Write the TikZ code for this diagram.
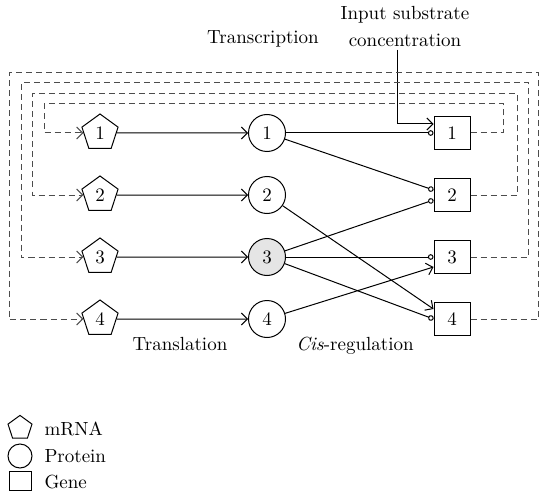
\documentclass[tikz,border=0pt]{standalone}
\usetikzlibrary{arrows,arrows.meta,shapes.geometric}

\tikzset{
  mrna/.style={draw, regular polygon, regular polygon sides=5, minimum size=19pt, inner sep=0pt},
  protein/.style={draw, circle, minimum size=18.5pt, inner sep=0pt},
  gene/.style={draw, rectangle, minimum width=18pt, minimum height=16.5pt, inner sep=0pt},
  fb/.style={draw=black!70, dash pattern=on 3pt off 2pt},
  lbl/.style={inner sep=0pt, anchor=base},
  act/.style={-{Straight Barb[length=3pt,width=6pt]}},
  inh/.style={-{Circle[open,length=2.8pt,width=2.8pt]}},
}

\begin{document}
\begin{tikzpicture}[x=0.5pt, y=-0.5pt, line width=0.5pt, font=\fontsize{9.5pt}{13.5pt}\selectfont]
	\useasboundingbox (0,0) rectangle (539,497);

	% mRNA
	\node[mrna] (p1) at (100,133) {1};
	\node[mrna] (p2) at (100,195) {2};
	\node[mrna] (p3) at (100,257) {3};
	\node[mrna] (p4) at (100,319) {4};
	% proteins
	\node[protein] (c1) at (267,133) {1};
	\node[protein] (c2) at (267,195) {2};
	\node[protein, fill=black!10] (c3) at (267,257) {3};
	\node[protein] (c4) at (267,319) {4};
	% genes
	\node[gene] (b1) at (452,133) {1};
	\node[gene] (b2) at (452,195) {2};
	\node[gene] (b3) at (452,257) {3};
	\node[gene] (b4) at (452,319) {4};

	% labels
	\node[lbl] (transcr) at (263,44) {Transcription};
	\node[align=center, inner sep=1pt] (inp) at (405,27) {Input substrate\\concentration};
	\node[lbl] (transl) at (180,350) {Translation};
	\node[lbl] (cisreg) at (355,350) {\textit{Cis}-regulation};

	% translation
	\draw[act] (p1) -- (c1);
	\draw[act] (p2) -- (c2);
	\draw[act] (p3) -- (c3);
	\draw[act] (p4) -- (c4);

	% cis-regulation
	\draw[inh] (c1) -- (b1.west);
	\draw[inh] (c1) -- ([yshift=2.5pt]b2.west);
	\draw[inh] (c3) -- ([yshift=-2.5pt]b2.west);
	\draw[inh] (c3) -- (b3.west);
	\draw[act] (c4) -- ([yshift=-5pt]b3.west);
	\draw[act] (c2) -- ([yshift=5pt]b4.west);
	\draw[inh] (c3) -- (b4.west);

	% input
	\draw[act] ([xshift=-4pt]inp.south) |- ([yshift=4.5pt]b1.west);

	% transcription feedback
	\draw[fb,act] (b1.east) -- (503,133) |- (44,104) |- (p1);
	\draw[fb,act] (b2.east) -- (517,195) |- (32,94) |- (p2);
	\draw[fb,act] (b3.east) -- (528,257) |- (21,83) |- (p3);
	\draw[fb,act] (b4.east) -- (538,319) |- (9,73) |- (p4);

	% legend
	\node[mrna, minimum size=12.6pt] (keym) at (20,428) {};
	\node[protein, minimum size=12pt] (keyp) at (20,456) {};
	\node[gene, minimum width=11pt, minimum height=9.5pt] (keyg) at (20,481) {};
	\node[lbl, anchor=base west] (keymtxt) at (44,435) {mRNA};
	\node[lbl, anchor=base west] (keyptxt) at (44,462) {Protein};
	\node[lbl, anchor=base west] (keygtxt) at (44,488) {Gene};
\end{tikzpicture}
\end{document}
